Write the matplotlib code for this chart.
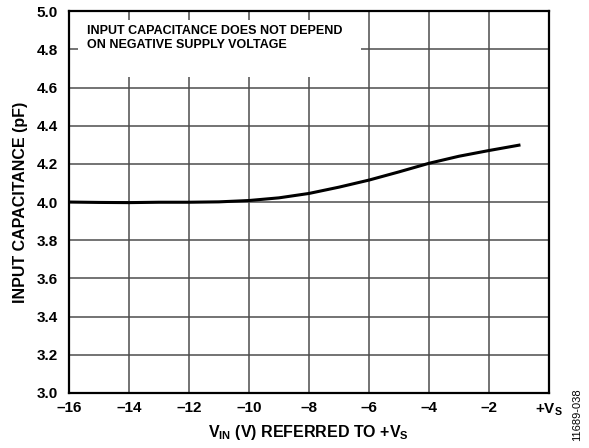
import numpy as np
import matplotlib
matplotlib.use('Agg')
import matplotlib.pyplot as plt
from matplotlib.patches import Rectangle

plt.rcParams['font.family'] = ['Liberation Sans', 'DejaVu Sans']
plt.rcParams['mathtext.fontset'] = 'custom'
plt.rcParams['mathtext.bf'] = 'Liberation Sans:bold'
plt.rcParams['mathtext.rm'] = 'Liberation Sans:bold'

# curve
vin = [-16, -15, -14, -13, -12, -11, -10, -9, -8, -7, -6, -5, -4, -3, -2, -1]
cap = [4.000, 3.998, 3.997, 3.999, 3.999, 4.001, 4.008, 4.022, 4.045, 4.078, 4.115, 4.158, 4.203, 4.240, 4.270, 4.298]

xticks = [-16, -14, -12, -10, -8, -6, -4, -2, 0]
xticklabels = ['\u201316', '\u201314', '\u201312', '\u201310', '\u20138', '\u20136', '\u20134', '\u20132', r'+$\mathrm{V_S}$']
yticks = [3.0, 3.2, 3.4, 3.6, 3.8, 4.0, 4.2, 4.4, 4.6, 4.8, 5.0]

fig = plt.figure(figsize=(5.89, 4.48), dpi=100)
ax = fig.add_axes([0.117, 0.123, 0.815, 0.852])

ax.plot(vin, cap, color='black', lw=2.2, zorder=4)

ax.set_xlim(-16, 0)
ax.set_ylim(3.0, 5.0)
ax.set_xticks(xticks)
ax.set_xticklabels(xticklabels)
ax.set_yticks(yticks)
ax.set_yticklabels(['%.1f' % v for v in yticks])
ax.tick_params(length=0, labelsize=11)
ax.tick_params(axis='y', pad=8)
ax.tick_params(axis='x', pad=6)
for lab in ax.get_xticklabels() + ax.get_yticklabels():
    lab.set_fontweight('bold')

ax.grid(True, color='#4d4d4d', lw=1.1)
ax.set_axisbelow(True)
for sp in ax.spines.values():
    sp.set_linewidth(1.6)
    sp.set_zorder(5)

# white box behind the note (grid stubs stay visible above it)
ax.add_patch(Rectangle((-15.7, 4.655), 9.45, 0.297, facecolor='white',
                       edgecolor='none', zorder=2))
ax.text(-15.4, 4.86, 'INPUT CAPACITANCE DOES NOT DEPEND\nON NEGATIVE SUPPLY VOLTAGE',
        fontsize=9, fontweight='bold', va='center', ha='left',
        linespacing=1.3, zorder=3)

ax.set_xlabel(r'$\mathrm{V_{IN}}$ (V) REFERRED TO +$\mathrm{V_S}$',
              fontsize=11.5, fontweight='bold', labelpad=4)
ax.set_ylabel('INPUT CAPACITANCE (pF)', fontsize=11.5, fontweight='bold', labelpad=6)

fig.text(0.98, 0.074, '11689-038', rotation=90, fontsize=8, ha='center', va='center')

fig.savefig('out.png', dpi=100)
